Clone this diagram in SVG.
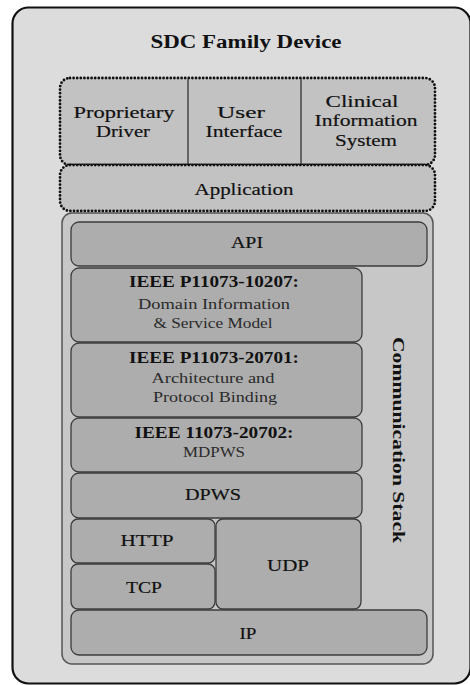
<svg xmlns="http://www.w3.org/2000/svg" width="470" height="685" viewBox="0 0 470 685">
  <style>
    text { font-family: "Liberation Serif", "DejaVu Serif", serif; text-anchor: middle; fill: #111; }
    .title { font-size: 18px; font-weight: bold; }
    .lbl { font-size: 16.5px; stroke: #111; stroke-width: 0.18; }
    .std { font-size: 16.5px; font-weight: bold; }
    .sub { font-size: 15px; fill: #2a2a2a; }
    .dotted { fill: #c2c2c2; stroke: #111; stroke-width: 2.8; stroke-dasharray: 0 3.6; stroke-linecap: round; }
    .layer { fill: #adadad; stroke: #3c3c3c; stroke-width: 1.3; }
    .divider { stroke: #444; stroke-width: 1.5; }
  </style>

  <rect x="0" y="0" width="470" height="685" fill="#ffffff"/>

  <!-- device enclosure -->
  <g id="device">
    <rect x="12.5" y="7.5" width="458" height="676" rx="16" fill="#dcdcdc" stroke="#111" stroke-width="2.2"/>
    <text class="title" x="246" y="48" textLength="191" lengthAdjust="spacingAndGlyphs">SDC Family Device</text>
  </g>

  <!-- application layer -->
  <g id="app-components">
    <rect class="dotted" x="60" y="78" width="375" height="87" rx="10"/>
    <line class="divider" x1="188" y1="79" x2="188" y2="164"/>
    <line class="divider" x1="301" y1="79" x2="301" y2="164"/>
  </g>
  <g id="proprietary-driver">
    <text class="lbl" x="124" y="118" textLength="101" lengthAdjust="spacingAndGlyphs">Proprietary</text>
    <text class="lbl" x="123" y="137" textLength="54" lengthAdjust="spacingAndGlyphs">Driver</text>
  </g>
  <g id="user-interface">
    <text class="lbl" x="241" y="118" textLength="48" lengthAdjust="spacingAndGlyphs">User</text>
    <text class="lbl" x="244" y="137" textLength="77" lengthAdjust="spacingAndGlyphs">Interface</text>
  </g>
  <g id="clinical-information-system">
    <text class="lbl" x="362" y="107" textLength="73" lengthAdjust="spacingAndGlyphs">Clinical</text>
    <text class="lbl" x="366" y="126" textLength="103" lengthAdjust="spacingAndGlyphs">Information</text>
    <text class="lbl" x="366" y="146" textLength="62" lengthAdjust="spacingAndGlyphs">System</text>
  </g>
  <g id="application">
    <rect class="dotted" x="60" y="165" width="375" height="46" rx="10"/>
    <text class="lbl" x="244" y="195" textLength="99" lengthAdjust="spacingAndGlyphs">Application</text>
  </g>

  <!-- communication stack -->
  <g id="communication-stack">
    <rect x="62" y="213" width="371" height="451" rx="10" fill="#c7c7c7" stroke="#555" stroke-width="1.5"/>
    <text class="std" transform="translate(393 440) rotate(90)" x="0" y="0" textLength="206" lengthAdjust="spacingAndGlyphs">Communication Stack</text>
  </g>
  <g id="api">
    <rect class="layer" x="71" y="222" width="356" height="44" rx="8"/>
    <text class="lbl" x="247" y="248" textLength="32" lengthAdjust="spacingAndGlyphs">API</text>
  </g>
  <g id="ieee-10207">
    <rect class="layer" x="71" y="268" width="291" height="74" rx="8"/>
    <text class="std" x="214" y="287" textLength="170" lengthAdjust="spacingAndGlyphs">IEEE P11073-10207:</text>
    <text class="sub" x="214" y="309" textLength="152" lengthAdjust="spacingAndGlyphs">Domain Information</text>
    <text class="sub" x="213" y="328" textLength="119" lengthAdjust="spacingAndGlyphs">&amp; Service Model</text>
  </g>
  <g id="ieee-20701">
    <rect class="layer" x="71" y="343" width="291" height="74" rx="8"/>
    <text class="std" x="214" y="363" textLength="170" lengthAdjust="spacingAndGlyphs">IEEE P11073-20701:</text>
    <text class="sub" x="213" y="383" textLength="123" lengthAdjust="spacingAndGlyphs">Architecture and</text>
    <text class="sub" x="215" y="402" textLength="124" lengthAdjust="spacingAndGlyphs">Protocol Binding</text>
  </g>
  <g id="ieee-20702">
    <rect class="layer" x="71" y="418" width="291" height="54" rx="8"/>
    <text class="std" x="214" y="438" textLength="159" lengthAdjust="spacingAndGlyphs">IEEE 11073-20702:</text>
    <text class="sub" x="214" y="457" textLength="62" lengthAdjust="spacingAndGlyphs">MDPWS</text>
  </g>
  <g id="dpws">
    <rect class="layer" x="71" y="473" width="291" height="45" rx="8"/>
    <text class="lbl" x="213" y="500" textLength="56" lengthAdjust="spacingAndGlyphs">DPWS</text>
  </g>
  <g id="http">
    <rect class="layer" x="71" y="519" width="144" height="44" rx="7"/>
    <text class="lbl" x="147" y="546" textLength="53" lengthAdjust="spacingAndGlyphs">HTTP</text>
  </g>
  <g id="tcp">
    <rect class="layer" x="71" y="564" width="144" height="45" rx="7"/>
    <text class="lbl" x="144" y="593" textLength="36" lengthAdjust="spacingAndGlyphs">TCP</text>
  </g>
  <g id="udp">
    <rect class="layer" x="216" y="519" width="145" height="90" rx="7"/>
    <text class="lbl" x="288" y="571" textLength="42" lengthAdjust="spacingAndGlyphs">UDP</text>
  </g>
  <g id="ip">
    <rect class="layer" x="71" y="610" width="356" height="45" rx="8"/>
    <text class="lbl" x="248" y="639" textLength="17" lengthAdjust="spacingAndGlyphs">IP</text>
  </g>
</svg>
